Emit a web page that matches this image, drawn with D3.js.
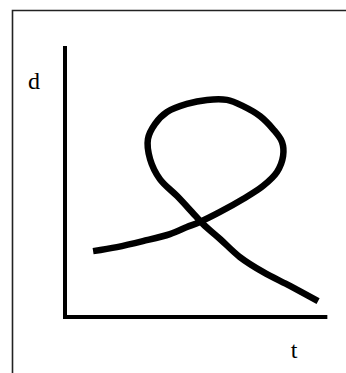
<!DOCTYPE html>
<html>
<head>
<meta charset="utf-8">
<script src="https://cdn.jsdelivr.net/npm/d3@7"></script>
<style>
  html, body { margin: 0; padding: 0; background: #fff; }
  svg { display: block; }
</style>
</head>
<body>
<script>
// Distance-time sketch: the path loops back on itself.
const tValues = [1.06, 1.96, 2.94, 3.96, 4.60, 5.09, 5.85, 6.72, 7.47, 8.00, 8.23, 8.19,
                 7.85, 7.36, 6.72, 6.11, 5.36, 4.60, 3.85, 3.40, 3.13, 3.21, 3.58, 4.23,
                 4.79, 5.21, 5.85, 6.60, 7.47, 8.49, 9.55];
const dValues = [2.44, 2.59, 2.81, 3.07, 3.33, 3.52, 3.89, 4.37, 4.85, 5.37, 5.96, 6.48,
                 6.96, 7.44, 7.81, 8.04, 8.04, 7.89, 7.59, 7.15, 6.59, 5.85, 5.11, 4.48,
                 3.89, 3.44, 2.89, 2.22, 1.67, 1.15, 0.59];
const axisLabels = ["t", "d"];

const W = 346, H = 373;
const svg = d3.select("body").append("svg").attr("width", W).attr("height", H);

// outer frame (open on right and bottom)
svg.append("path")
  .attr("d", "M12.5,373 L12.5,10.5 L346,10.5")
  .attr("fill", "none").attr("stroke", "#222").attr("stroke-width", 1.6);

const x = d3.scaleLinear().domain([0, 10]).range([65, 330]);
const y = d3.scaleLinear().domain([0, 10]).range([317, 47]);

// axes
svg.append("line")
  .attr("x1", x(0)).attr("x2", x(0)).attr("y1", y(10.04)).attr("y2", y(0) + 2)
  .attr("stroke", "#000").attr("stroke-width", 4);
svg.append("line")
  .attr("x1", x(0) - 2).attr("x2", x(9.9)).attr("y1", y(0)).attr("y2", y(0))
  .attr("stroke", "#000").attr("stroke-width", 4);

// axis names
const serif = "'Liberation Serif', 'Times New Roman', serif";
svg.append("text")
  .attr("x", 294).attr("y", 358)
  .attr("text-anchor", "middle")
  .attr("font-family", serif)
  .attr("font-size", 24).attr("fill", "#000")
  .text(axisLabels[0]);
svg.append("text")
  .attr("x", 34).attr("y", 89)
  .attr("text-anchor", "middle")
  .attr("font-family", serif)
  .attr("font-size", 24).attr("fill", "#000")
  .text(axisLabels[1]);

// the curve
const pts = tValues.map((t, i) => [t, dValues[i]]);
const line = d3.line()
  .x(p => x(p[0])).y(p => y(p[1]))
  .curve(d3.curveCatmullRom.alpha(0.5));
svg.append("path")
  .datum(pts)
  .attr("d", line)
  .attr("fill", "none")
  .attr("stroke", "#000")
  .attr("stroke-width", 6.5)
  .attr("stroke-linejoin", "round")
  .attr("stroke-linecap", "butt");
</script>
</body>
</html>
